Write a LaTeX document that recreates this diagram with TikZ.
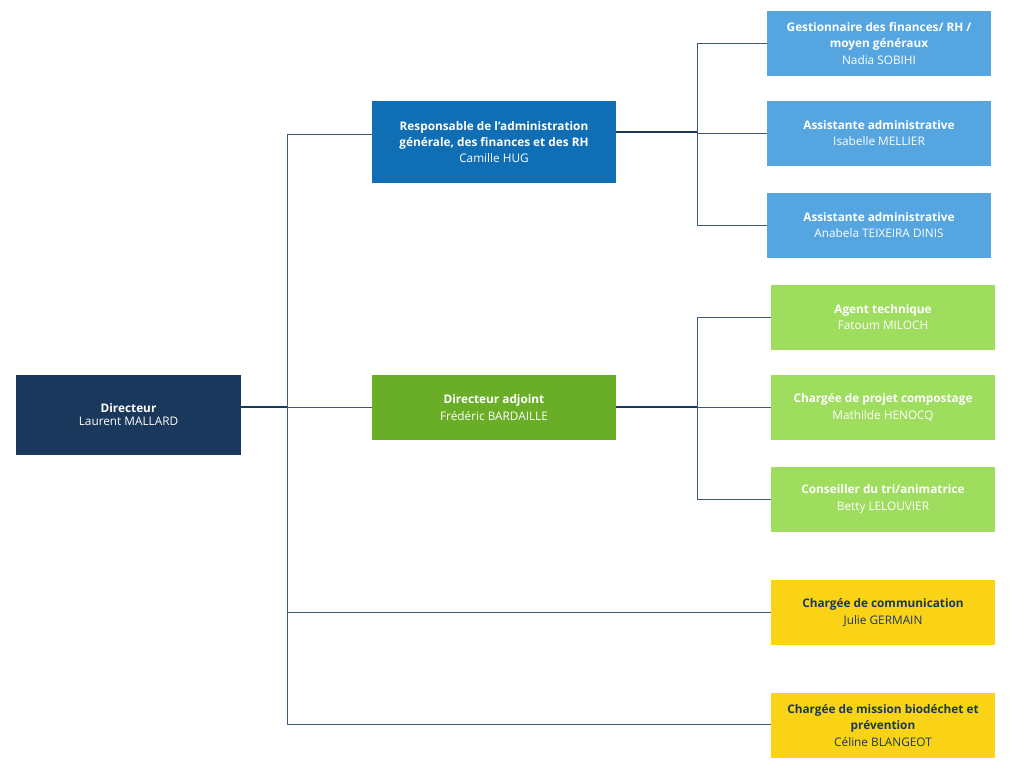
\documentclass[tikz,border=0pt]{standalone}
\usepackage{fontspec}
\setmainfont{Open Sans}
\usetikzlibrary{positioning,calc}
\definecolor{navy}{HTML}{1A385C}
\definecolor{royal}{HTML}{0F6EB4}
\definecolor{sky}{HTML}{55A6E0}
\definecolor{leaf}{HTML}{6AAD27}
\definecolor{lime}{HTML}{9FDD5E}
\definecolor{gold}{HTML}{FAD316}
\definecolor{wirec}{HTML}{3E5878}
\tikzset{
  postbox/.style={fill=royal,text=white,inner sep=0pt,align=center,
    minimum width=244pt,minimum height=65pt,
    font=\fontsize{11.8}{16.3}\selectfont},
  boss/.style={postbox,fill=navy,minimum width=225pt,minimum height=80pt,
    font=\fontsize{11.8}{12.9}\selectfont},
  postb/.style={postbox,fill=sky,minimum width=224pt},    % admin team
  postg/.style={postbox,fill=lime,minimum width=224pt},   % technical team
  posty/.style={postbox,fill=gold,text=navy,minimum width=224pt},
  wire/.style={draw=wirec,line width=0.8pt},
  lead/.style={draw=navy,line width=1.8pt},
}

\begin{document}
\begin{tikzpicture}[x=1pt,y=-1pt]
  \useasboundingbox (0,0) rectangle (1024,768);
  % left column
  \node[boss](dir) at (128.5,415){\textbf{Directeur}\\Laurent MALLARD};
  % middle column
  \node[postbox,minimum height=82pt](resp) at (494,142){\textbf{Responsable de l'administration}\\\textbf{générale, des finances et des RH}\\Camille HUG};
  \node[postbox,fill=leaf](adj) at (494,407.5){\textbf{Directeur adjoint}\\Frédéric BARDAILLE};
  % right column
  \node[postb](ges) at (879,43.5){\textbf{Gestionnaire des finances/ RH /}\\\textbf{moyen généraux}\\Nadia SOBIHI};
  \node[postb](ass) at (879,133){\textbf{Assistante administrative}\\Isabelle MELLIER};
  \node[postb](tei) at (879,225){\textbf{Assistante administrative}\\Anabela TEIXEIRA DINIS};
  \node[postg](agt) at (883,317){\textbf{Agent technique}\\Fatoum MILOCH};
  \node[postg](cmp) at (883,407.5){\textbf{Chargée de projet compostage}\\Mathilde HENOCQ};
  \node[postg](tri) at (883,499){\textbf{Conseiller du tri/animatrice}\\Betty LELOUVIER};
  \node[posty](com) at (883,612.5){\textbf{Chargée de communication}\\Julie GERMAIN};
  \node[posty](bio) at (883,725.5){\textbf{Chargée de mission biodéchet et}\\\textbf{prévention}\\Céline BLANGEOT};

  % bus points
  \coordinate (trunk) at (287,407);
  \coordinate (t1) at (287,134);
  \coordinate (t4) at (287,612);
  \coordinate (t5) at (287,724);
  \coordinate (busa) at (697,132);
  \coordinate (busb) at (697,407);

  % director to his reports
  \draw[wire] (t1) -- (t5);
  \draw[lead] (dir.east |- trunk) -- (trunk);
  \draw[wire] (t1) -- (resp.west |- t1);
  \draw[wire] (trunk) -- (adj.west |- trunk);
  \foreach \c/\n in {t4/com,t5/bio} \draw[wire](\c) -- (\n.west |- \c);

  % admin team
  \draw[lead] (resp.east |- busa) -- (busa);
  \draw[wire] (busa |- ges) -- (busa |- tei);
  \foreach \n in {ges,ass,tei} \draw[wire](busa |- \n) -- (\n.west);

  % technical team
  \draw[lead] (adj.east |- busb) -- (busb);
  \draw[wire] (busb |- agt) -- (busb |- tri);
  \foreach \n in {agt,cmp,tri} \draw[wire](busb |- \n) -- (\n.west);
\end{tikzpicture}
\end{document}
